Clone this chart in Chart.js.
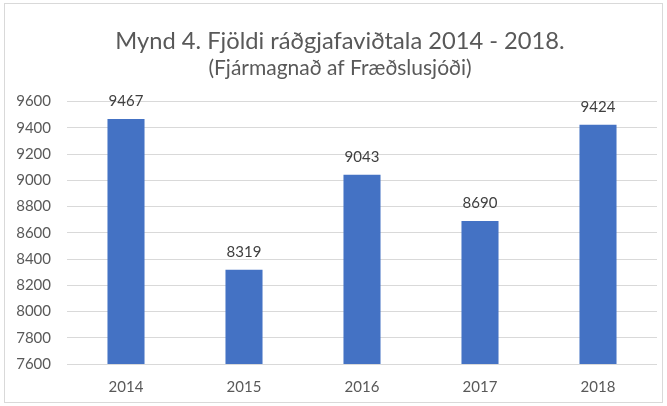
<!DOCTYPE html>
<html>
<head>
<meta charset="utf-8">
<script src="https://cdn.jsdelivr.net/npm/chart.js@4"></script>
<style>
html,body{margin:0;padding:0;background:#fff;}
#wrap{position:relative;width:667px;height:406px;}
</style>
</head>
<body>
<div id="wrap"><canvas id="c" width="667" height="406"></canvas></div>
<script>
const categories = ["2014", "2015", "2016", "2017", "2018"];
const values = [9467, 8319, 9043, 8690, 9424];
const titleText = "Mynd 4. Fjöldi ráðgjafaviðtala 2014 - 2018.";
const subtitleText = "(Fjármagnað af Fræðslusjóði)";
const yMin = 7600, yMax = 9600, yStep = 200;

const FONT = "Lato, 'Open Sans', sans-serif";

const borderPlugin = {
  id: 'outerBorder',
  beforeDraw(chart) {
    const ctx = chart.ctx;
    ctx.save();
    ctx.fillStyle = '#ffffff';
    ctx.fillRect(0, 0, chart.width, chart.height);
    ctx.strokeStyle = '#d9d9d9';
    ctx.lineWidth = 1;
    ctx.strokeRect(4.5, 3.5, 658, 399);
    ctx.restore();
  }
};

// shift the title/subtitle boxes so they are centred like the original
const titleShiftPlugin = {
  id: 'titleShift',
  afterLayout(chart) {
    chart.boxes.forEach(b => {
      if (b.options && typeof b.options.text === 'string') {
        b.left = 23;
      }
    });
  }
};

const labelPlugin = {
  id: 'valueLabels',
  afterDatasetsDraw(chart) {
    const ctx = chart.ctx;
    const meta = chart.getDatasetMeta(0);
    ctx.save();
    ctx.font = "15px " + FONT;
    ctx.fillStyle = '#404040';
    ctx.textAlign = 'center';
    ctx.textBaseline = 'middle';
    meta.data.forEach((bar, i) => {
      ctx.fillText(String(chart.data.datasets[0].data[i]), bar.x, bar.y - 18);
    });
    ctx.restore();
  }
};

new Chart(document.getElementById('c'), {
  type: 'bar',
  data: {
    labels: categories,
    datasets: [{
      data: values,
      backgroundColor: '#4472C4',
      borderWidth: 0,
      barPercentage: 1,
      categoryPercentage: 0.314
    }]
  },
  options: {
    responsive: false,
    animation: false,
    devicePixelRatio: 1,
    layout: { padding: { left: 0, right: 10, top: 0, bottom: 0 } },
    plugins: {
      legend: { display: false },
      tooltip: { enabled: false },
      title: {
        display: true,
        text: titleText,
        color: '#595959',
        font: { family: FONT, size: 23.7, weight: 'normal' },
        padding: { top: 27, bottom: 0 }
      },
      subtitle: {
        display: true,
        text: subtitleText,
        color: '#595959',
        font: { family: FONT, size: 21, weight: 'normal' },
        padding: { top: 0, bottom: 21 }
      }
    },
    scales: {
      x: {
        afterFit(scale) { scale.height = 42; },
        grid: { display: false, drawTicks: false },
        border: { display: false },
        ticks: { color: '#595959', font: { family: FONT, size: 15 }, padding: 14 }
      },
      y: {
        min: yMin,
        max: yMax,
        afterFit(scale) { scale.width = 67; },
        grid: { color: '#d9d9d9', drawTicks: false, lineWidth: 1 },
        border: { display: false },
        ticks: {
          stepSize: yStep,
          color: '#595959',
          font: { family: FONT, size: 15 },
          padding: 16,
          callback: (v) => String(v)
        }
      }
    }
  },
  plugins: [borderPlugin, titleShiftPlugin, labelPlugin]
});
</script>
</body>
</html>
